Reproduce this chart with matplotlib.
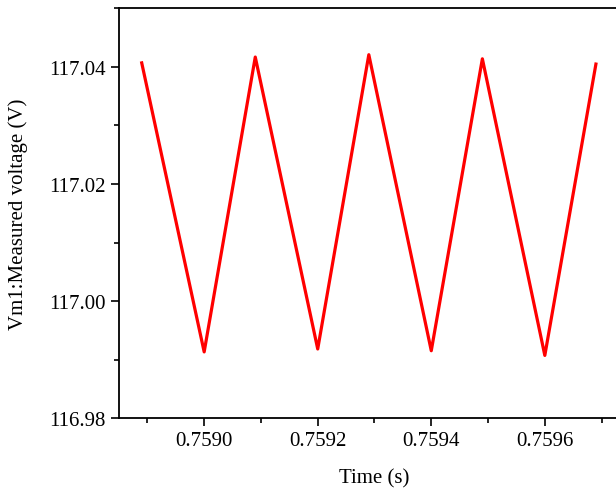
import matplotlib
matplotlib.use("Agg")
import matplotlib.pyplot as plt
from matplotlib.ticker import MultipleLocator, FormatStrFormatter

# Values
time_s = [0.75889, 0.75900, 0.75909, 0.75920, 0.75929,
          0.75940, 0.75949, 0.75960, 0.75969]
voltage_v = [117.0407, 116.9913, 117.0417, 116.9918, 117.0421,
             116.9915, 117.0414, 116.9907, 117.0405]

plt.rcParams['font.family'] = ['Liberation Serif', 'DejaVu Serif']
plt.rcParams['font.size'] = 15

fig = plt.figure(figsize=(6.16, 4.89), dpi=100)
ax = fig.add_axes([0.1932, 0.1431, 0.8295, 0.8375])

ax.plot(time_s, voltage_v, color='#ff0000', linewidth=2.3)

ax.set_xlim(0.75885, 0.75975)
ax.set_ylim(116.98, 117.05)

ax.xaxis.set_major_locator(MultipleLocator(0.0002))
ax.xaxis.set_minor_locator(MultipleLocator(0.0001))
ax.xaxis.set_major_formatter(FormatStrFormatter('%.4f'))
ax.yaxis.set_major_locator(MultipleLocator(0.02))
ax.yaxis.set_minor_locator(MultipleLocator(0.01))
ax.yaxis.set_major_formatter(FormatStrFormatter('%.2f'))

for s in ax.spines.values():
    s.set_linewidth(1.3)
ax.tick_params(which='major', direction='out', length=6, width=1.2, labelsize=15)
ax.tick_params(which='minor', direction='out', length=3.5, width=1.2)

ax.set_xlabel("Time (s)", fontsize=15, labelpad=13)
ax.set_ylabel("Vm1:Measured voltage (V)", fontsize=15, labelpad=15)

fig.savefig("out.png", dpi=100)
